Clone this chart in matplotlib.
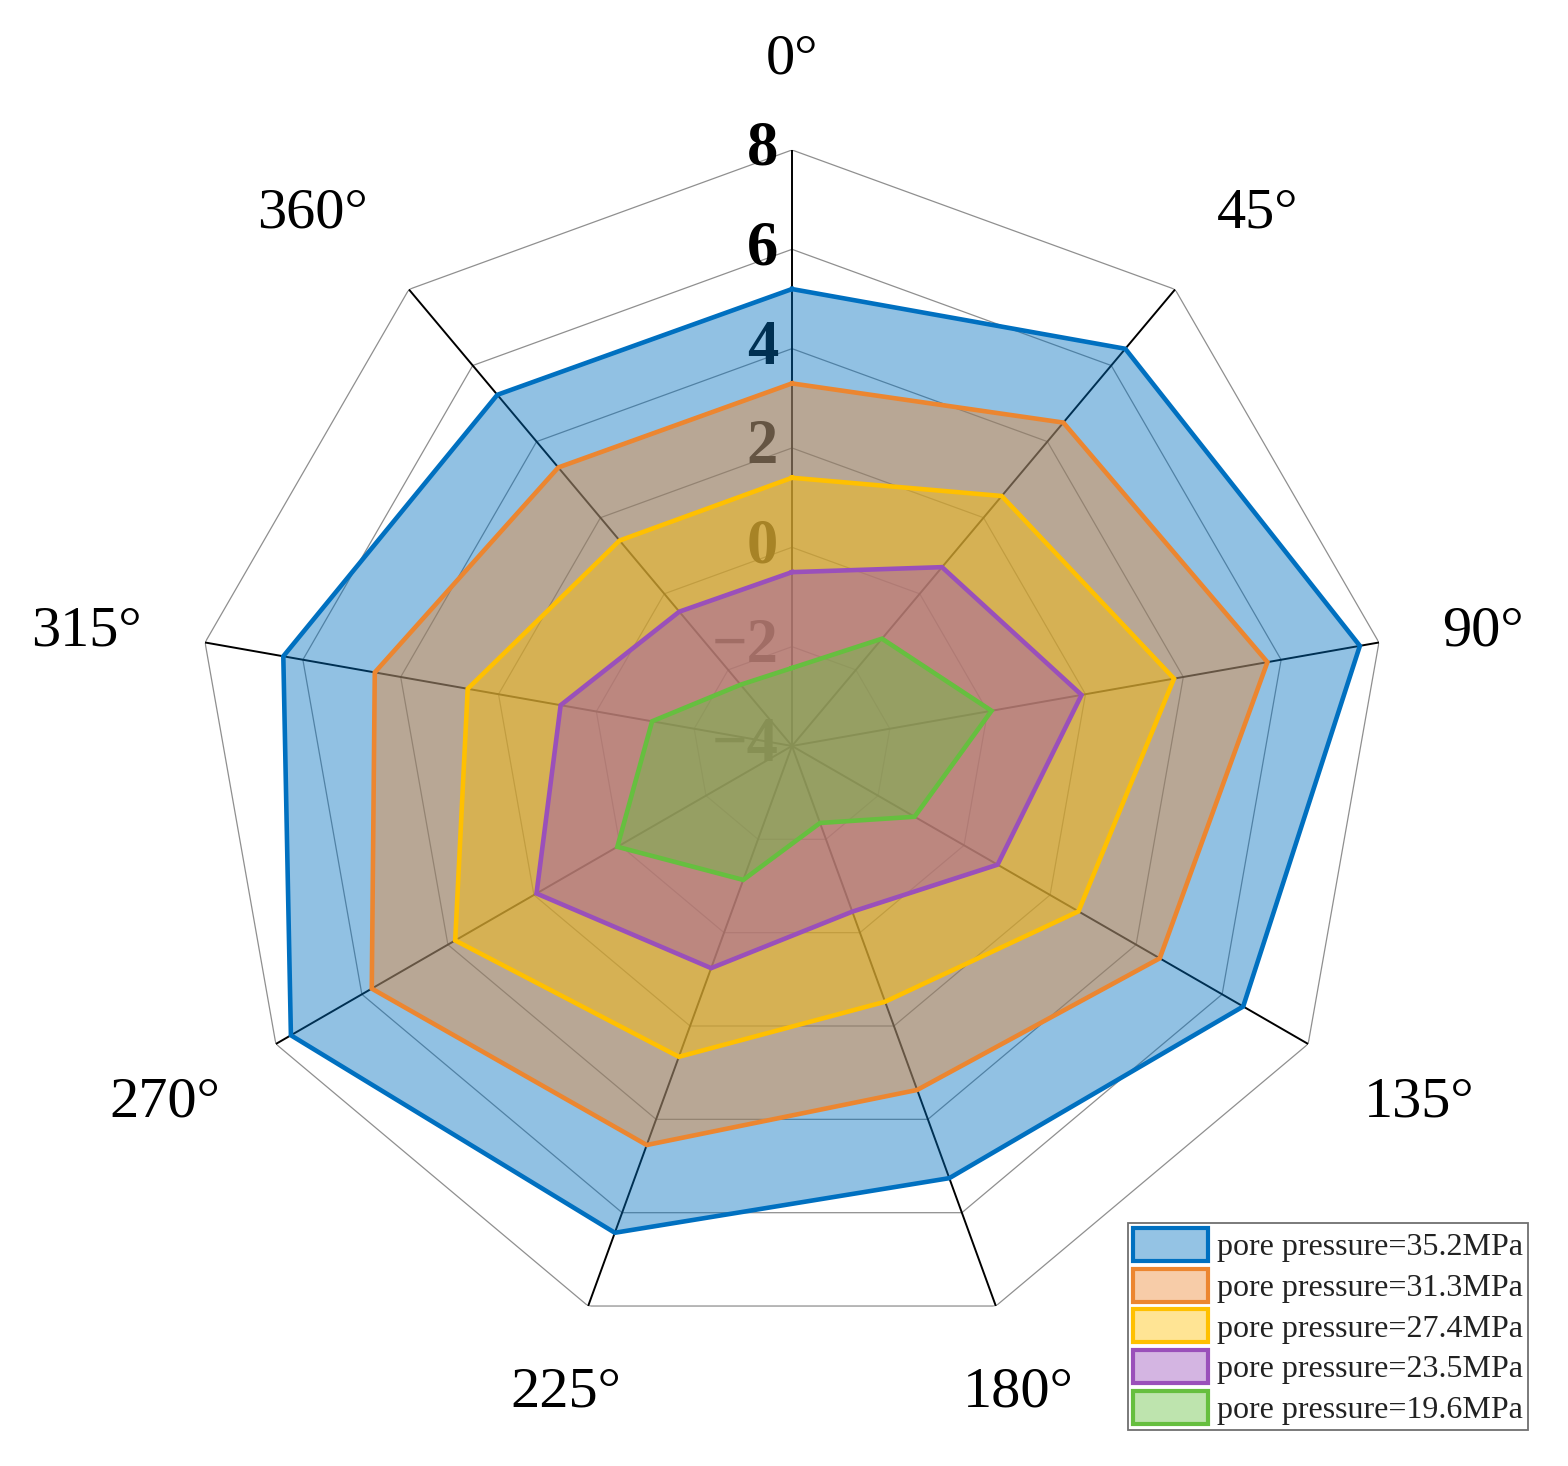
import numpy as np
import matplotlib
matplotlib.use('Agg')
import matplotlib.pyplot as plt
import matplotlib.patches as mpatches
from matplotlib.colors import to_rgba

plt.rcParams['font.family'] = ['Liberation Serif', 'DejaVu Serif']
plt.rcParams['mathtext.fontset'] = 'stix'

# ---------------- data ----------------
directions = ['0°', '45°', '90°', '135°', '180°', '225°', '270°', '315°', '360°']
radial_ticks = [-4, -2, 0, 2, 4, 6, 8]
radial_labels = ['−4', '−2', '0', '2', '4', '6', '8']

series_labels = ['pore pressure=35.2MPa', 'pore pressure=31.3MPa',
                 'pore pressure=27.4MPa', 'pore pressure=23.5MPa',
                 'pore pressure=19.6MPa']

p35_2 = [5.20, 6.44, 7.61, 6.49, 5.26, 6.43, 7.65, 6.40, 5.23]
p31_3 = [3.30, 4.50, 5.72, 4.55, 3.37, 4.55, 5.77, 4.53, 3.32]
p27_4 = [1.40, 2.57, 3.81, 2.66, 1.48, 2.66, 3.83, 2.63, 1.40]
p23_5 = [-0.50, 0.70, 1.92, 0.78, -0.45, 0.76, 1.94, 0.73, -0.47]
p19_6 = [-2.43, -1.18, 0.08, -1.15, -2.35, -1.13, 0.06, -1.14, -2.39]

series = [p35_2, p31_3, p27_4, p23_5, p19_6]
colors = ['#0070C0', '#EC8630', '#FFC000', '#9A50BA', '#66BF3F']

# ---------------- figure ----------------
fig = plt.figure(figsize=(15.68, 14.66), dpi=100)
ax = fig.add_axes([0.125, 0.0846, 0.7602, 0.8131], projection='polar')
ax.set_theta_zero_location('N')
ax.set_theta_direction(-1)
ax.set_ylim(radial_ticks[0], radial_ticks[-1])
ax.grid(False)
ax.set_xticks([])
ax.set_yticks([])
ax.spines['polar'].set_visible(False)
ax.patch.set_alpha(0)

n = len(directions)
theta = np.linspace(0, 2 * np.pi, n, endpoint=False)
theta_c = np.append(theta, theta[0])

# polygon grid rings
for t in radial_ticks[1:]:
    ax.plot(theta_c, [t] * (n + 1), color='#8f8f8f', lw=0.9, zorder=1)
# spokes
for th in theta:
    ax.plot([th, th], [radial_ticks[0], radial_ticks[-1]], color='black',
            lw=1.4, zorder=1.5)

# radial tick labels along the 0° spoke
for v, lab in zip(radial_ticks, radial_labels):
    ax.annotate(lab, xy=(0, v), xytext=(-10, 0), textcoords='offset points',
                ha='right', va='center', fontsize=45, fontweight='bold',
                zorder=2, annotation_clip=False)

# direction labels
for th, lab in zip(theta, directions):
    s, c = np.sin(th), np.cos(th)
    ha = 'left' if s > 0.5 else ('right' if s < -0.5 else 'center')
    va = 'bottom' if c > 0.3 else ('top' if c < -0.3 else 'center')
    ax.text(th, 9.3, lab, ha=ha, va=va, fontsize=42, clip_on=False)

# series
handles = []
for vals, col, lab in zip(series, colors, series_labels):
    vc = np.append(vals, vals[0])
    ax.fill(theta_c, vc, facecolor=col, alpha=0.43, edgecolor='none', zorder=3)
    ax.plot(theta_c, vc, color=col, lw=3.3, zorder=4, solid_joinstyle='miter')
    handles.append(mpatches.Patch(facecolor=to_rgba(col, 0.42), edgecolor=col,
                                  lw=3, label=lab))

leg = fig.legend(handles=handles, loc='lower right',
                 bbox_to_anchor=(0.9745, 0.0246), fontsize=23,
                 frameon=True, fancybox=False, edgecolor='#707070',
                 framealpha=1, borderpad=0.15, labelspacing=0.2,
                 handlelength=2.35, handleheight=1.22, handletextpad=0.3,
                 borderaxespad=0)
leg.get_frame().set_linewidth(1.3)
for t in leg.get_texts():
    t.set_color('#222222')

fig.savefig('out.png', dpi=100)
